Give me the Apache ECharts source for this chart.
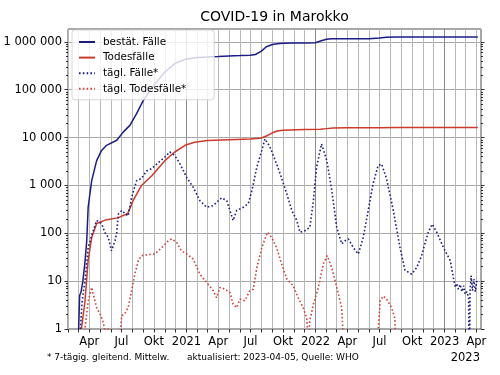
<!DOCTYPE html>
<html><head><meta charset="utf-8">
<script src="https://cdn.jsdelivr.net/npm/echarts@6/dist/echarts.min.js"></script>
<style>html,body{margin:0;padding:0;background:#fff}#c{width:500px;height:375px}</style>
</head><body><div id="c"></div>
<script>
// ---- data ----
const cumCases = [['2020-03-02',1],['2020-03-05',5],['2020-03-09',6],['2020-03-14',10],['2020-03-20',25],['2020-03-25',70],['2020-03-29',350],['2020-04-08',1260],['2020-04-22',3300],['2020-05-06',5400],['2020-05-20',6900],['2020-06-18',8800],['2020-07-06',13000],['2020-07-25',18000],['2020-08-13',31600],['2020-09-01',60000],['2020-10-01',125000],['2020-11-01',235000],['2020-12-01',360000],['2021-01-01',440000],['2021-02-01',470000],['2021-03-01',485000],['2021-04-01',496000],['2021-05-01',510000],['2021-06-01',518000],['2021-07-01',528000],['2021-07-15',545000],['2021-08-01',640000],['2021-08-15',790000],['2021-09-01',880000],['2021-09-15',915000],['2021-10-01',935000],['2021-11-01',945000],['2021-12-01',950000],['2022-01-01',960000],['2022-01-15',1040000],['2022-02-01',1140000],['2022-02-15',1158000],['2022-04-01',1163000],['2022-06-01',1170000],['2022-07-01',1200000],['2022-07-20',1250000],['2022-08-15',1262000],['2022-10-01',1266000],['2023-01-01',1270000],['2023-04-05',1272000]];
const cumDeaths = [['2020-03-10',1],['2020-03-20',3.8],['2020-03-29',27],['2020-04-08',82],['2020-04-22',160],['2020-05-20',193],['2020-06-21',210],['2020-07-19',260],['2020-08-03',480],['2020-08-27',1000],['2020-09-25',1600],['2020-11-01',3300],['2020-11-29',5000],['2020-12-28',6900],['2021-01-24',8000],['2021-03-01',8700],['2021-05-01',9000],['2021-07-01',9300],['2021-08-01',9800],['2021-08-15',10800],['2021-09-01',12600],['2021-09-15',13700],['2021-10-01',14200],['2021-12-01',14800],['2022-01-15',15000],['2022-02-01',15400],['2022-02-20',15800],['2022-04-01',16060],['2022-07-01',16100],['2022-08-15',16270],['2023-04-05',16297]];
const dailyCases = [['2020-03-07',1],['2020-03-11',3],['2020-03-14',5],['2020-03-20',10],['2020-03-29',50],['2020-04-08',90],['2020-04-22',185],['2020-05-06',160],['2020-05-15',105],['2020-05-25',82],['2020-06-03',43],['2020-06-13',70],['2020-06-18',105],['2020-06-22',250],['2020-07-02',300],['2020-07-11',260],['2020-07-20',230],['2020-07-30',560],['2020-08-13',1260],['2020-08-27',1400],['2020-09-10',2000],['2020-09-25',2250],['2020-10-13',3000],['2020-11-01',3900],['2020-11-15',5000],['2020-11-29',4200],['2020-12-14',2800],['2021-01-02',1450],['2021-01-20',920],['2021-02-08',480],['2021-02-27',350],['2021-03-18',380],['2021-04-01',480],['2021-04-11',550],['2021-04-25',480],['2021-05-04',300],['2021-05-13',185],['2021-05-23',300],['2021-06-11',350],['2021-06-25',420],['2021-07-05',780],['2021-07-19',2400],['2021-08-02',5400],['2021-08-11',9400],['2021-08-25',6400],['2021-09-13',2800],['2021-09-23',1750],['2021-10-12',660],['2021-10-26',300],['2021-11-09',185],['2021-11-18',105],['2021-12-02',113],['2021-12-16',133],['2021-12-26',480],['2022-01-04',2400],['2022-01-18',7400],['2022-02-02',3300],['2022-02-16',780],['2022-03-02',133],['2022-03-16',60],['2022-03-26',70],['2022-04-04',76],['2022-04-18',50],['2022-05-02',37],['2022-05-16',82],['2022-05-30',300],['2022-06-13',1100],['2022-06-27',2600],['2022-07-07',2800],['2022-07-21',1370],['2022-08-09',300],['2022-08-28',50],['2022-09-11',17],['2022-09-30',14],['2022-10-14',19],['2022-10-28',34],['2022-11-06',60],['2022-11-16',105],['2022-11-27',155],['2022-12-10',105],['2022-12-29',50],['2023-01-17',27],['2023-01-31',7.4],['2023-02-04',9],['2023-02-09',6.8],['2023-02-14',8.5],['2023-02-19',6],['2023-02-24',8],['2023-02-28',5.3],['2023-03-05',6],['2023-03-10',4.5],['2023-03-12',0.05],['2023-03-14',6],['2023-03-17',13],['2023-03-21',6.3],['2023-03-25',11],['2023-03-29',6],['2023-04-02',10],['2023-04-05',9.4]];
const dailyDeaths = [['2020-03-15',0.3],['2020-03-20',1],['2020-03-29',3.8],['2020-04-08',7.4],['2020-04-12',5.4],['2020-04-22',2.8],['2020-05-01',2.1],['2020-05-08',1.6],['2020-05-15',1],['2020-05-25',1],['2020-05-30',0.3],['2020-06-21',0.3],['2020-07-02',1.9],['2020-07-11',2.1],['2020-07-20',2.8],['2020-07-30',6.3],['2020-08-08',14],['2020-08-18',27],['2020-08-27',34],['2020-09-15',36],['2020-10-04',37],['2020-10-23',50],['2020-11-11',70],['2020-11-20',76],['2020-12-04',65],['2020-12-18',43],['2021-01-02',37],['2021-01-20',29],['2021-02-08',14],['2021-02-27',9.4],['2021-03-18',6.3],['2021-03-27',4.5],['2021-04-06',7.4],['2021-04-20',6.8],['2021-05-04',5.8],['2021-05-13',3.3],['2021-05-23',2.8],['2021-06-01',4.2],['2021-06-15',3.9],['2021-06-29',6.3],['2021-07-09',6.8],['2021-07-19',19],['2021-08-02',50],['2021-08-18',105],['2021-08-30',82],['2021-09-13',50],['2021-09-27',23],['2021-10-12',11],['2021-10-30',8],['2021-11-13',4.5],['2021-11-27',2.8],['2021-12-07',1.7],['2021-12-12',0.5],['2021-12-16',1.5],['2021-12-26',3.3],['2022-01-09',7.4],['2022-01-23',23],['2022-02-03',34],['2022-02-16',19],['2022-03-02',7.4],['2022-03-16',2.8],['2022-03-23',0.3],['2022-06-22',0.3],['2022-07-03',3.9],['2022-07-12',4.9],['2022-07-21',4.2],['2022-08-04',2.8],['2022-08-13',1.7],['2022-08-18',0.3]];

const seriesNames = ['bestät. Fälle','Todesfälle','tägl. Fälle*','tägl. Todesfälle*'];
const quarterTickDates = ['2020-04-01','2020-07-01','2020-10-01','2021-01-01','2021-04-01','2021-07-01','2021-10-01','2022-01-01','2022-04-01','2022-07-01','2022-10-01','2023-01-01','2023-04-01'];
const quarterLabels = ['Apr','Jul','Okt','2021','Apr','Jul','Okt','2022','Apr','Jul','Okt','2023','Apr'];
const yearLineDates = ['2021-01-01','2022-01-01','2023-01-01'];
const xMinDate = '2020-02-01', xMaxDate = '2023-04-14';
const yMin = 1, yMax = 1860000;

// ---- helpers ----
const ts = s => { const [y,m,d] = s.split('-').map(Number); return Date.UTC(y, m-1, d); };
const toData = arr => arr.map(([d,v]) => [ts(d), v]);
const monthTicks = [];
for (let y = 2020; y <= 2023; y++) for (let m = 1; m <= 12; m++) {
  const t = Date.UTC(y, m-1, 1);
  if (t >= ts(xMinDate) && t <= ts(xMaxDate)) monthTicks.push(t);
}
const quarterTs = quarterTickDates.map(ts);
const logMax = Math.log10(yMax);
const minorLog = [], majorLog = [];
for (let e = 0; e <= 6; e++) { majorLog.push(e); for (let k = 2; k <= 9; k++) { const v = e + Math.log10(k); if (v <= logMax) minorLog.push(v); } }
const fmtNum = v => String(Math.round(v)).replace(/\B(?=(\d{3})+(?!\d))/g, ' ');

const FONT = 'DejaVu Sans';
const BLUE = '#1c1c86', RED = '#cc3a2a', RED2 = '#d0413a';
const gridBox = { left: 68, right: 19, top: 29, bottom: 46 };

const minorAxis = (pos, len, vals) => ({
  type: 'value', position: pos, min: 0, max: logMax, gridIndex: 0,
  axisLine: { show: false }, axisLabel: { show: false }, splitLine: { show: false },
  axisTick: { show: true, inside: false, length: len, customValues: vals, lineStyle: { color: '#000', width: 0.8 } }
});

const chart = echarts.init(document.getElementById('c'), null, { renderer: 'canvas' });
chart.setOption({
  animation: false,
  backgroundColor: '#fff',
  grid: Object.assign({ show: true, borderColor: '#222', borderWidth: 0.8, backgroundColor: 'transparent', containLabel: false }, gridBox),
  legend: {
    data: seriesNames, orient: 'vertical', left: 72, top: 30,
    itemWidth: 16, itemHeight: 12, itemGap: 3.6,
    padding: [6, 28, 5, 6],
    itemStyle: { opacity: 0 },
    backgroundColor: 'rgba(255,255,255,0.8)', borderColor: '#cccccc', borderWidth: 0.8, borderRadius: 3,
    textStyle: { fontFamily: FONT, fontSize: 10.4, color: '#000', padding: [0, 0, 0, 3], lineHeight: 12 }
  },
  xAxis: [
    {
      type: 'value', min: ts(xMinDate), max: ts(xMaxDate), position: 'bottom',
      axisLine: { show: false },
      axisTick: { show: true, inside: false, length: 3.5, customValues: monthTicks, lineStyle: { color: '#000', width: 0.8 } },
      splitLine: { show: true, lineStyle: { color: '#b8b8b8', width: 1 } },
      axisLabel: {
        customValues: quarterTs, margin: 7, hideOverlap: false,
        fontFamily: FONT, fontSize: 11.5, color: '#000',
        formatter: v => { const i = quarterTs.indexOf(v); return i >= 0 ? quarterLabels[i] : ''; }
      }
    },
    {
      type: 'value', min: ts(xMinDate), max: ts(xMaxDate), position: 'bottom',
      axisLine: { show: false }, axisLabel: { show: false },
      axisTick: { show: false, customValues: yearLineDates.map(ts) },
      splitLine: { show: true, lineStyle: { color: '#8a8a8a', width: 1 } }
    }
  ],
  yAxis: [
    {
      type: 'log', logBase: 10, min: yMin, max: yMax, position: 'left',
      axisLine: { show: false },
      axisTick: { show: true, inside: false, length: 3.5, lineStyle: { color: '#000', width: 0.8 } },
      splitLine: { show: true, lineStyle: { color: '#a8a8a8', width: 1 } },
      axisLabel: { showMaxLabel: false, margin: 6, fontFamily: FONT, fontSize: 11.5, color: '#000', formatter: v => fmtNum(v) }
    },
    minorAxis('left', 2, minorLog),
    minorAxis('right', 2, minorLog),
    minorAxis('right', 3.5, majorLog)
  ],
  series: [
    { name: seriesNames[0], type: 'line', data: toData(cumCases), symbol: 'none', clip: true, z: 3,
      lineStyle: { color: BLUE, width: 1.5 }, itemStyle: { color: BLUE } },
    { name: seriesNames[1], type: 'line', data: toData(cumDeaths), symbol: 'none', clip: true, z: 3,
      lineStyle: { color: RED, width: 1.5 }, itemStyle: { color: RED } },
    { name: seriesNames[2], type: 'line', data: toData(dailyCases), symbol: 'none', clip: true, z: 3,
      lineStyle: { color: BLUE, width: 1.6, type: [1.6, 2.2] }, itemStyle: { color: BLUE } },
    { name: seriesNames[3], type: 'line', data: toData(dailyDeaths), symbol: 'none', clip: true, z: 3,
      lineStyle: { color: RED2, width: 1.6, type: [1.6, 2.2] }, itemStyle: { color: RED2 } }
  ],
  graphic: [
    { type: 'text', x: 274.5, y: 17, style: { text: 'COVID-19 in Marokko', font: '14px "DejaVu Sans"', fill: '#000', align: 'center', verticalAlign: 'middle' } },
    { type: 'text', x: 47, y: 358, style: { text: '* 7-tägig. gleitend. Mittelw.', font: '9px "DejaVu Sans"', fill: '#000', align: 'left', verticalAlign: 'middle' } },
    { type: 'text', x: 187, y: 358, style: { text: 'aktualisiert: 2023-04-05, Quelle: WHO', font: '9px "DejaVu Sans"', fill: '#000', align: 'left', verticalAlign: 'middle' } },
    { type: 'text', x: 480, y: 358, style: { text: '2023', font: '11.5px "DejaVu Sans"', fill: '#000', align: 'right', verticalAlign: 'middle' } }
  ]
});
</script>
</body></html>
